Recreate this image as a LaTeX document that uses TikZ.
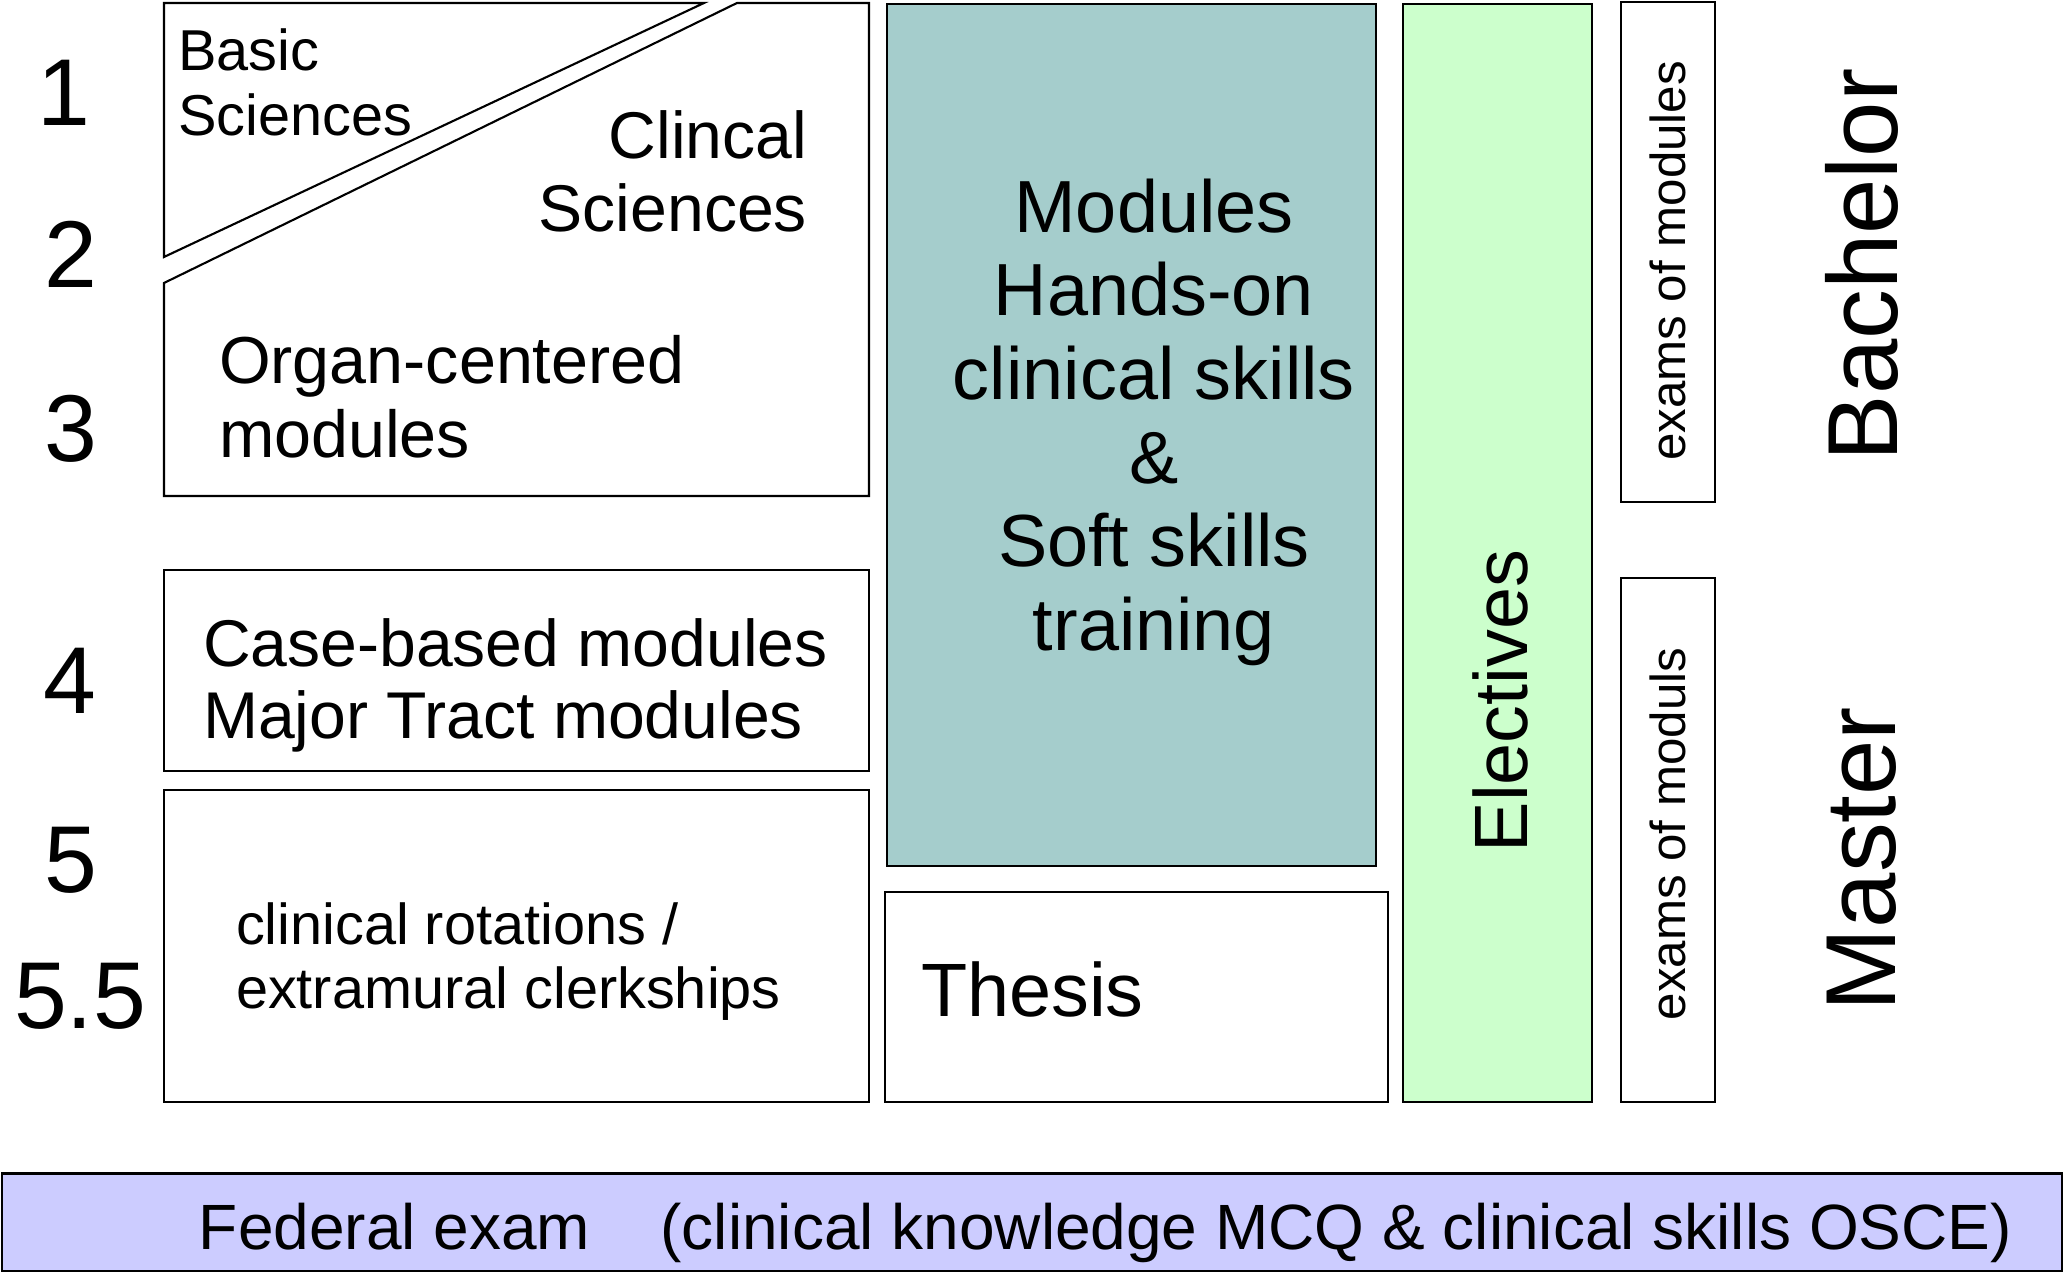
\documentclass[tikz,border=0pt]{standalone}
\usepackage{fontspec}
\setmainfont{Liberation Sans}
\usetikzlibrary{positioning}
\definecolor{corefill}{RGB}{165,205,204}
\definecolor{electfill}{RGB}{204,255,204}
\definecolor{fedfill}{RGB}{204,204,255}
\newcommand{\fsz}[2]{\fontsize{#1}{#2}\selectfont}

\begin{document}
\begin{tikzpicture}[x=0.01cm, y=-0.01cm, line width=0.6pt,
  box/.style={draw=black},
  lbl/.style={inner sep=0pt, outer sep=0pt},
  num/.style={lbl, font=\fsz{27}{30}},
  vlbl/.style={lbl, rotate=90}]
  \fill[white] (0,0) rectangle (2065,1274);
  % years
  \node[num] (y1) at (64,92.5) {1};
  \node[num] (y2) at (70.5,254.5) {2};
  \node[num] (y3) at (71,428.5) {3};
  \node[num] (y4) at (70,681) {4};
  \node[num] (y5) at (71,860) {5};
  \node[num] (y55) at (80,996) {5.5};
  % left column
  \draw[box] (164,3) -- (704,3) -- (164,257) -- cycle;
  \draw[box] (737,3) -- (869,3) -- (869,496) -- (164,496) -- (164,283) -- cycle;
  \draw[box] (164,570) rectangle (869,771);
  \draw[box] (164,790) rectangle (869,1102);
  \node[lbl, anchor=north west, align=left, font=\fsz{16.4}{18.4}] (basic) at (178,28.7) {Basic\\Sciences};
  \node[lbl, anchor=north east, align=right, font=\fsz{18.8}{20.8}] (clin) at (807,110.2) {Clincal\\Sciences};
  \node[lbl, anchor=north west, align=left, font=\fsz{18.9}{21.2}] (organ) at (219,335) {Organ-centered\\modules};
  \node[lbl, anchor=north west, align=left, font=\fsz{18.8}{20.5}] (case) at (203,618.2) {Case-based modules\\Major Tract modules};
  \node[lbl, anchor=north west, align=left, font=\fsz{16.4}{18.2}] (rot) at (236,902.7) {clinical rotations /\\extramural clerkships};
  % middle column
  \draw[box, fill=corefill] (887,4) rectangle (1376,866);
  \draw[box] (885,892) rectangle (1388,1102);
  \node[lbl, anchor=north, align=center, font=\fsz{21}{23.8}] (core) at (1154,178.7) {Modules\\Hands-on\\clinical skills\\\&\\Soft skills\\training};
  \node[lbl, anchor=base west, font=\fsz{21.5}{24}] (thesis) at (921,1016.8) {Thesis};
  % electives and exams
  \draw[box, fill=electfill] (1403,4) rectangle (1592,1102);
  \node[vlbl, font=\fsz{21.5}{24}] (elect) at (1500,701) {Electives};
  \draw[box] (1621,2) rectangle (1715,502);
  \draw[box] (1621,578) rectangle (1715,1102);
  \node[vlbl, font=\fsz{14}{16}] (exbach) at (1668,261) {exams of modules};
  \node[vlbl, font=\fsz{14}{16}] (exmast) at (1668,834) {exams of moduls};
  \node[vlbl, font=\fsz{28.3}{30}] (bach) at (1862,265) {Bachelor};
  \node[vlbl, font=\fsz{28.3}{30}] (mast) at (1862,859) {Master};
  % federal exam
  \draw[box, line width=0.8pt, fill=fedfill] (2,1173.5) rectangle (2062,1271);
  \node[lbl, anchor=base west, font=\fsz{18.2}{20}] (fed) at (199,1250) {Federal exam\hspace{20pt}(clinical knowledge MCQ \& clinical skills OSCE)};
\end{tikzpicture}
\end{document}
